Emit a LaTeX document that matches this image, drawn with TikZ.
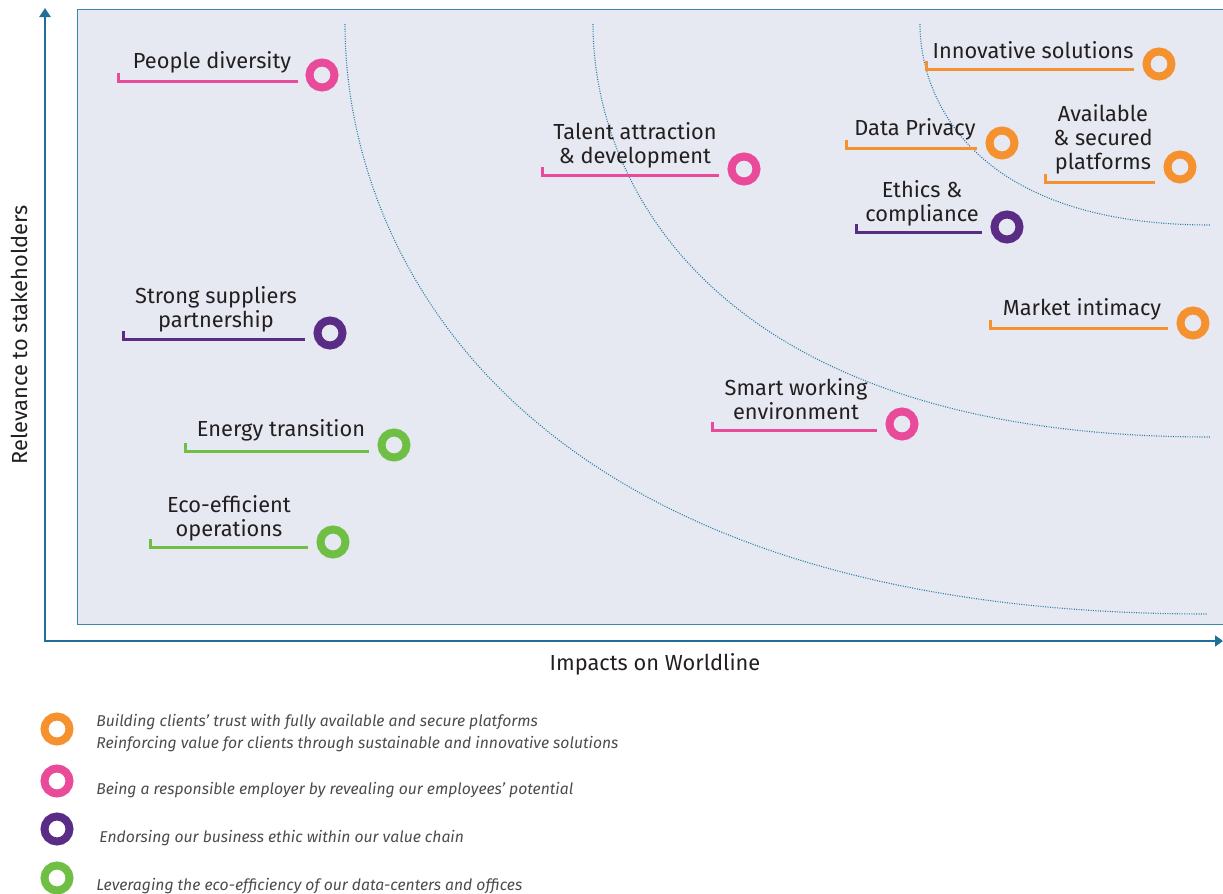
\documentclass[tikz,border=0pt]{standalone}
\usepackage{fontspec}
\setmainfont{Fira Sans}
\usepackage{tikz}
\usetikzlibrary{arrows.meta}

\definecolor{wlorange}{HTML}{F5922F}
\definecolor{wlpink}{HTML}{EA4A9A}
\definecolor{wlpurple}{HTML}{5B2C86}
\definecolor{wlgreen}{HTML}{6FBF45}
\definecolor{wlaxis}{HTML}{216E96}
\definecolor{wlframe}{HTML}{3C86AA}
\definecolor{wlbox}{HTML}{E6E9F1}
\definecolor{wlcurve}{HTML}{2B7BA6}
\definecolor{wltext}{HTML}{231F20}

\begin{document}
\begin{tikzpicture}[x=0.5pt,y=-0.5pt,font=\fontsize{10.9}{12}\selectfont,text=wltext]
            \tikzstyle{ring}=[circle,draw,line width=4pt,minimum size=12.5pt,inner sep=0pt]
            \tikzstyle{label}=[align=center,inner sep=0pt]
            \tikzstyle{uline}=[line width=1.5pt]
            \tikzstyle{curve}=[draw=wlcurve,line width=0.55pt,dash pattern=on 0.5pt off 0.7pt]
            \tikzstyle{legend}=[anchor=base west,align=left,inner sep=0pt,text=black!70,font=\fontsize{7.85}{11}\selectfont\itshape]

                \useasboundingbox (0,0) rectangle (1223,894);
                \filldraw[fill=wlbox,draw=wlframe,line width=0.5pt] (77,9) rectangle (1230,624);

                % axes
                \coordinate (O) at (45,641);
                \coordinate (Y) at (45,8);
                \coordinate (X) at (1223,641);
                \draw[line width=1.4pt,draw=wlaxis,{Triangle[length=4.5pt,width=5.5pt]}-{Triangle[length=4pt,width=5.5pt]}] (Y) -- (O) -- (X);
                \node[rotate=90] (ylab) at (19,335) {Relevance to stakeholders};
                \node (xlab) at (655,664) {Impacts on Worldline};

                % dotted curves
                \draw[curve] (345,24) .. controls (345,254) and (517,614) .. (1207,614);
                \draw[curve] (593,24) .. controls (593,185) and (716,437) .. (1210,437);
                \draw[curve] (920,24) .. controls (920,103) and (978,225) .. (1210,225);

                % topics
                \node[ring,draw=wlpink] (R-1) at (322,75) {};
                \node[label] (L-1) at (212,62) {People diversity};
                \node[ring,draw=wlpink] (R-2) at (744,169) {};
                \node[label] (L-2) at (635,145) {Talent attraction\\\& development};
                \node[ring,draw=wlorange] (R-3) at (1159,64) {};
                \node[label] (L-3) at (1033,50) {Innovative solutions};
                \node[ring,draw=wlorange] (R-4) at (1002,143) {};
                \node[label] (L-4) at (915,129) {Data Privacy};
                \node[ring,draw=wlorange] (R-5) at (1180,167) {};
                \node[label] (L-5) at (1103,139) {Available\\\& secured\\platforms};
                \node[ring,draw=wlpurple] (R-6) at (1007,227) {};
                \node[label] (L-6) at (922,203) {Ethics \&\\compliance};
                \node[ring,draw=wlorange] (R-7) at (1193,323) {};
                \node[label] (L-7) at (1082,309) {Market intimacy};
                \node[ring,draw=wlpink] (R-8) at (902,424) {};
                \node[label] (L-8) at (796,399) {Smart working\\environment};
                \node[ring,draw=wlpurple] (R-9) at (330,333) {};
                \node[label] (L-9) at (216,309) {Strong suppliers\\partnership};
                \node[ring,draw=wlgreen] (R-10) at (394,445) {};
                \node[label] (L-10) at (281,430) {Energy transition};
                \node[ring,draw=wlgreen] (R-11) at (333,542) {};
                \node[label] (L-11) at (229,518) {Eco-efficient\\operations};

                \foreach \xa/\xb/\y/\c in {118/298/81/wlpink, 542/719/175/wlpink, 926/1134/69/wlorange, 846/977/148/wlorange, 1045/1155/182/wlorange, 856/982/232/wlpurple, 990/1168/328/wlorange, 712/877/430/wlpink, 123/305/339/wlpurple, 185/369/451/wlgreen, 150/308/547/wlgreen}
                    \draw[uline,draw=\c] (\xa,\y-8) -- (\xa,\y) -- (\xb,\y);

                % legend
                \node[ring,draw=wlorange] (K-1) at (57,729) {};
                \node[legend,anchor=west] (T-1) at (96,733) {Building clients' trust with fully available and secure platforms\\Reinforcing value for clients through sustainable and innovative solutions};
                \node[ring,draw=wlpink] (K-2) at (57,781) {};
                \node[legend] (T-2) at (96,794) {Being a responsible employer by revealing our employees' potential};
                \node[ring,draw=wlpurple] (K-3) at (57,829) {};
                \node[legend] (T-3) at (99,842) {Endorsing our business ethic within our value chain};
                \node[ring,draw=wlgreen] (K-4) at (57,878) {};
                \node[legend] (T-4) at (96,890) {Leveraging the eco-efficiency of our data-centers and offices};
        \end{tikzpicture}
\end{document}
